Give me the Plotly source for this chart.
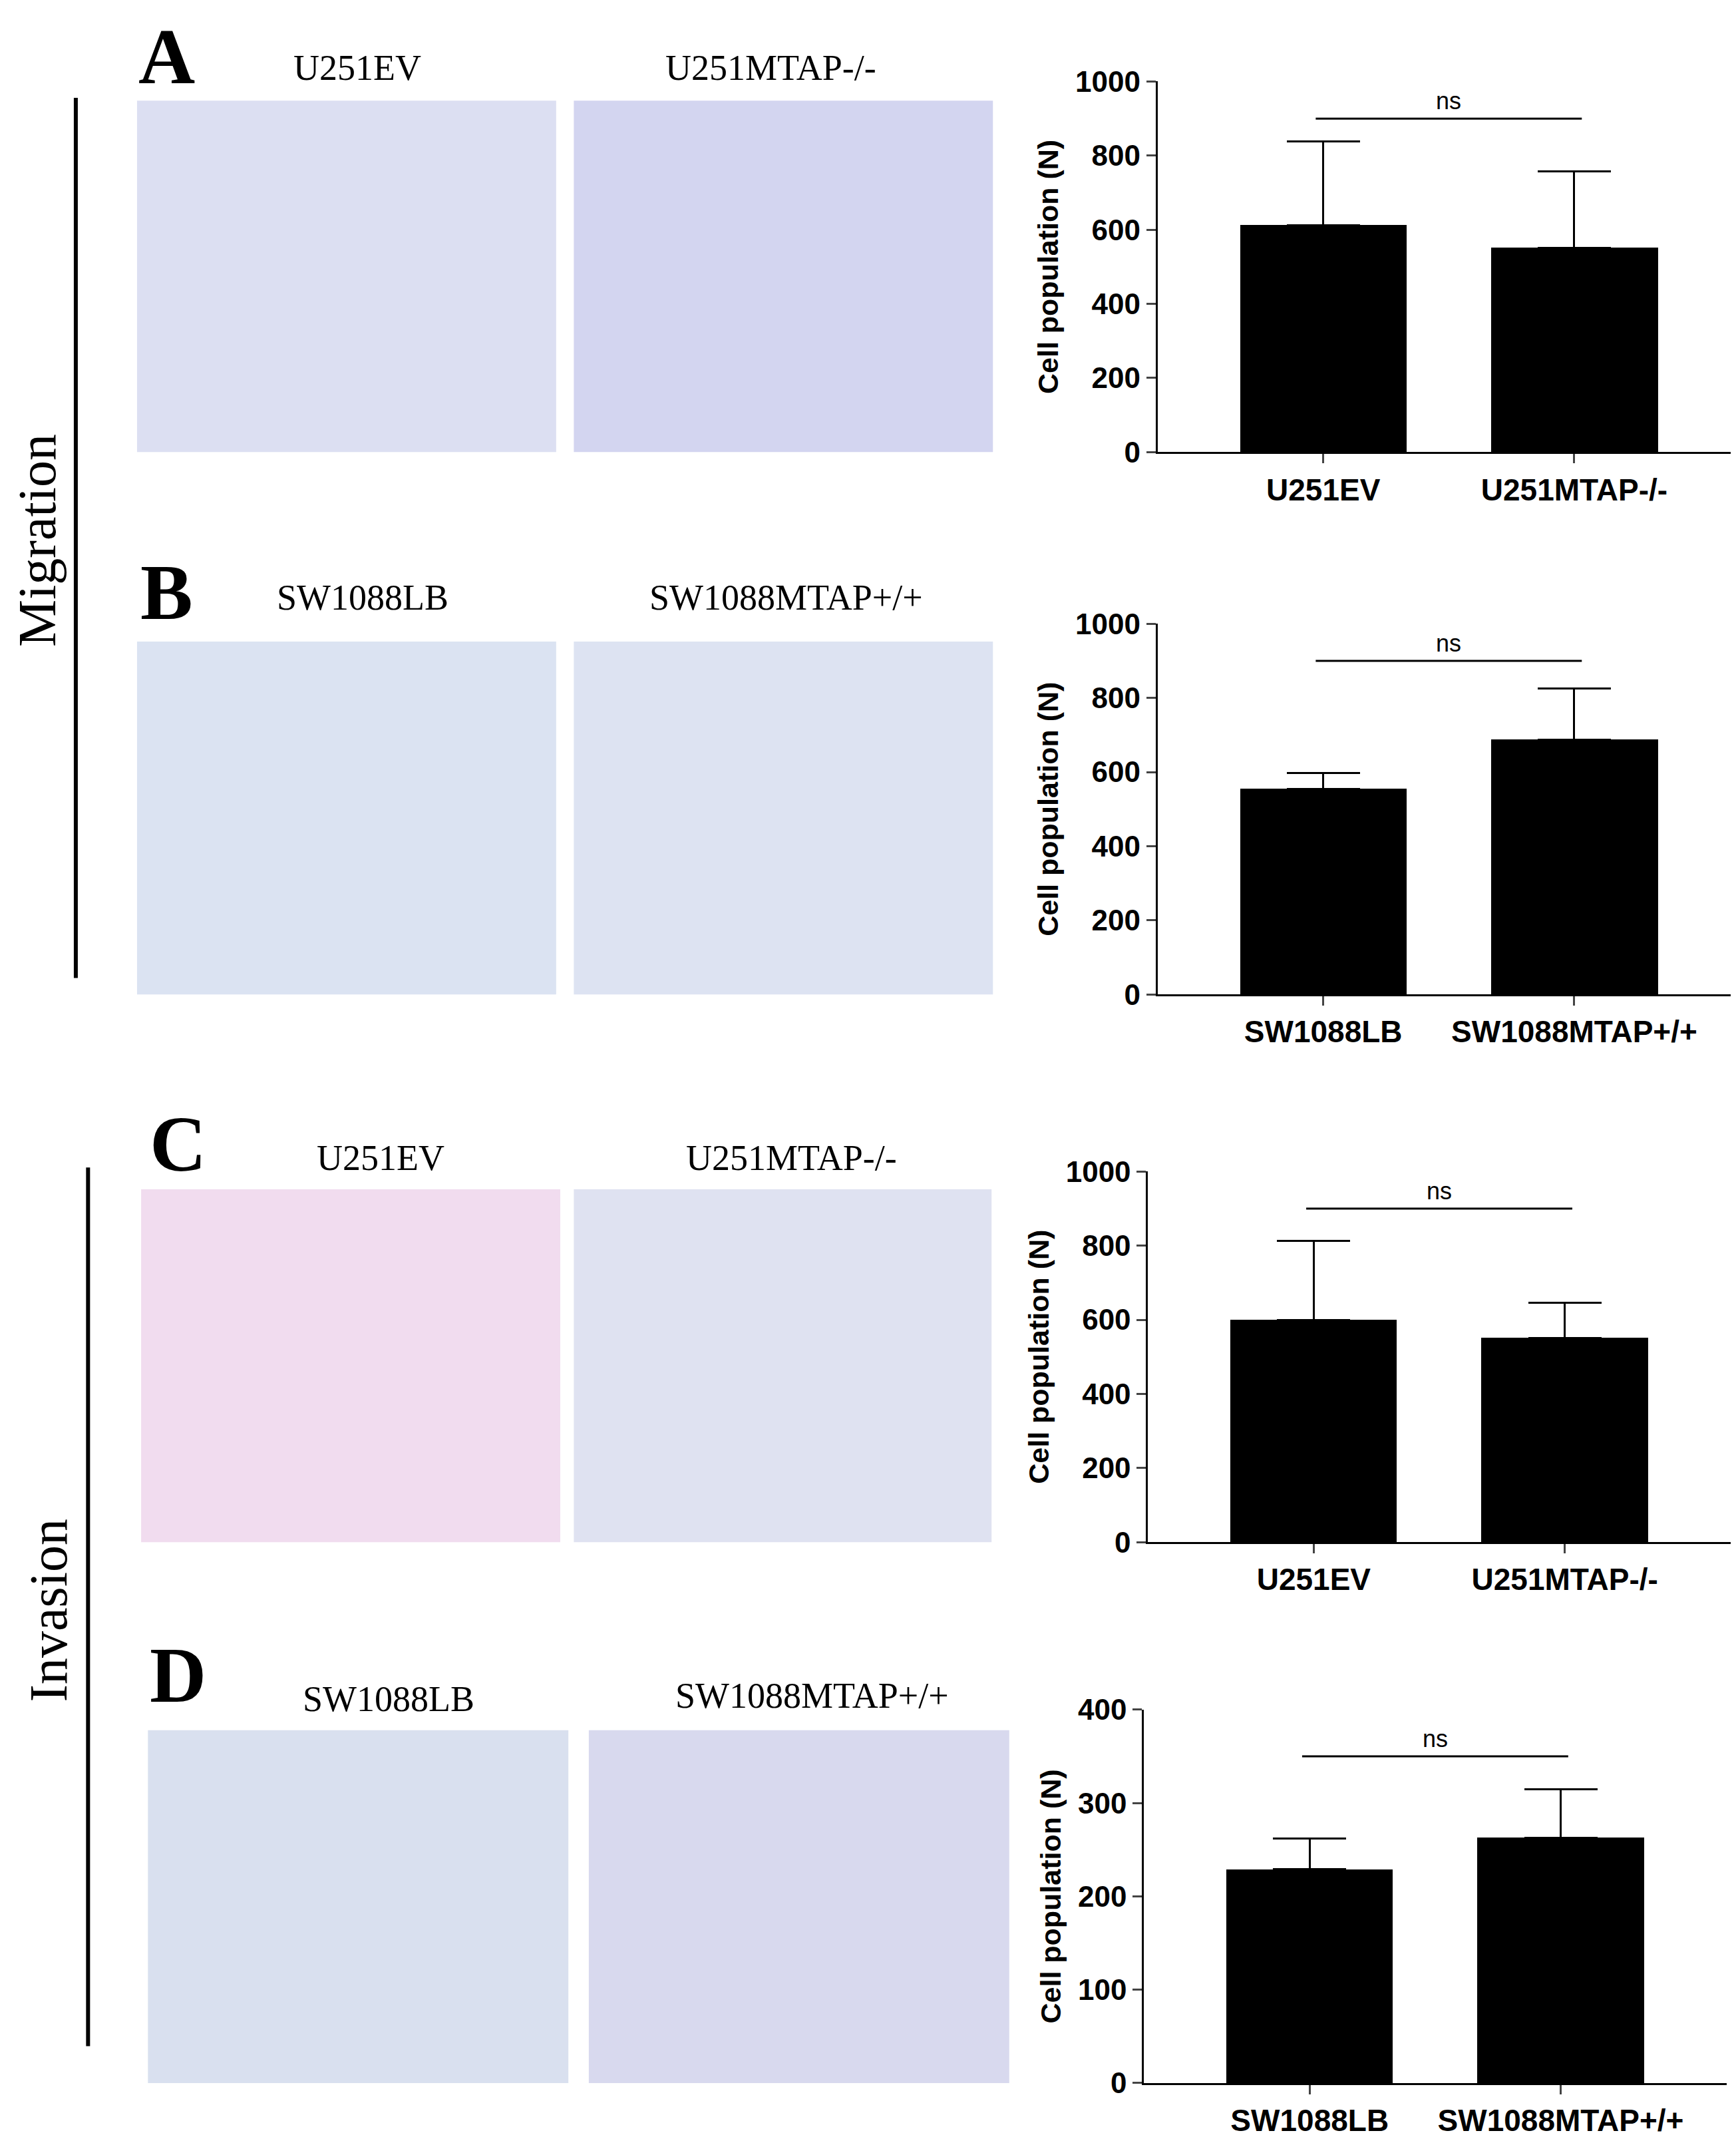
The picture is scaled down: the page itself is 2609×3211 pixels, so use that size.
import plotly.graph_objects as go

W, H = 2609, 3211

cats_A = ["U251EV", "U251MTAP-/-"]
mean_A = [612, 551]
err_A = [226, 207]
cats_B = ["SW1088LB", "SW1088MTAP+/+"]
mean_B = [555, 688]
err_B = [43, 137]
cats_C = ["U251EV", "U251MTAP-/-"]
mean_C = [600, 551]
err_C = [212, 95]
cats_D = ["SW1088LB", "SW1088MTAP+/+"]
mean_D = [229, 263]
err_D = [33, 52]
ymax = [1000, 1000, 1000, 400]
ydtick = [200, 200, 200, 100]
ns_y = [900, 900, 900, 350]

def fx(d): return (d - 3.2) / 1275.8
def fy(d): return 1 - (d - 14.3) / 1544.5

panels = [
    (cats_A, mean_A, err_A, 850, 1278, 58, 330),
    (cats_B, mean_B, err_B, 850, 1278, 456, 728),
    (cats_C, mean_C, err_C, 843, 1271, 858, 1130),
    (cats_D, mean_D, err_D, 840, 1268, 1253, 1527),
]

fig = go.Figure()
font_tick = "Liberation Sans Narrow, Arial Narrow, Liberation Sans, Arial"
for i, (cats, m, e, xl, xr, yt, yb) in enumerate(panels):
    n = i + 1
    xa = "x" if n == 1 else f"x{n}"
    ya = "y" if n == 1 else f"y{n}"
    fig.add_trace(go.Bar(
        x=[0, 1], y=m, width=0.665, marker=dict(color="black", line=dict(width=0)),
        error_y=dict(type="data", symmetric=False, array=e, arrayminus=[0, 0],
                     color="black", thickness=3, width=55),
        xaxis=xa, yaxis=ya, showlegend=False))
    lay_x = "xaxis" if n == 1 else f"xaxis{n}"
    lay_y = "yaxis" if n == 1 else f"yaxis{n}"
    fig.layout[lay_x] = dict(domain=[fx(xl), fx(xr)], range=[-0.66, 1.66], anchor=ya,
                             tickvals=[0, 1], ticktext=[f"<b>{c}</b>" for c in cats],
                             showline=True, linecolor="black",
                             linewidth=3, ticks="outside", ticklen=14, tickwidth=3,
                             tickfont=dict(family=font_tick, size=46, color="black"),
                             showgrid=False, zeroline=False)
    fig.layout[lay_y] = dict(domain=[fy(yb), fy(yt)], range=[0, ymax[i]], anchor=xa,
                             dtick=ydtick[i], showline=True, linecolor="black", linewidth=3,
                             ticks="outside", ticklen=14, tickwidth=3,
                             tickprefix="<b>", ticksuffix="</b>",
                             tickfont=dict(family=font_tick, size=44, color="black"),
                             title=dict(text="<b>Cell population (N)</b>", standoff=12,
                                        font=dict(family="Liberation Sans, Arial", size=43, color="black")),
                             showgrid=False, zeroline=False)
    fig.add_shape(type="line", xref=xa, yref=ya, x0=-0.03, x1=1.03, y0=ns_y[i], y1=ns_y[i],
                  line=dict(color="black", width=3))
    fig.add_annotation(xref=xa, yref=ya, x=0.5, y=ns_y[i], text="ns", showarrow=False,
                       yanchor="bottom", yshift=4,
                       font=dict(family="Liberation Sans Narrow, Liberation Sans", size=36, color="black"))

images = [
    (100, 408, 72, 330, "#dcdff2"), (421, 729, 72, 330, "#d3d5f0"),
    (100, 408, 469, 728, "#dbe3f2"), (421, 729, 469, 728, "#dde3f2"),
    (103, 411, 871, 1130, "#f1dcef"), (421, 728, 871, 1130, "#dfe2f1"),
    (108, 417, 1268, 1527, "#d9e0ef"), (432, 741, 1268, 1527, "#d8d9ee"),
]
for x0, x1, y0, y1, c in images:
    fig.add_shape(type="rect", xref="paper", yref="paper", x0=fx(x0), x1=fx(x1),
                  y0=fy(y1), y1=fy(y0), fillcolor=c, line=dict(width=0), layer="below")

serif = "Liberation Serif, Times New Roman, serif"
titles = [
    ("U251EV", 262, 48), ("U251MTAP-/-", 566, 48),
    ("SW1088LB", 266, 437), ("SW1088MTAP+/+", 577, 437),
    ("U251EV", 279, 848), ("U251MTAP-/-", 581, 848),
    ("SW1088LB", 285, 1245), ("SW1088MTAP+/+", 596, 1243),
]
for t, x, y in titles:
    fig.add_annotation(xref="paper", yref="paper", x=fx(x), y=fy(y), text=t, showarrow=False,
                       xanchor="center", yanchor="middle",
                       font=dict(family=serif, size=54, color="black"))
letters = [("A", 122, 40), ("B", 122, 433), ("C", 130, 838), ("D", 130, 1228)]
for t, x, y in letters:
    fig.add_annotation(xref="paper", yref="paper", x=fx(x), y=fy(y), text=f"<b>{t}</b>",
                       xanchor="center", yanchor="middle",
                       showarrow=False, font=dict(family=serif, size=118, color="black"))

fig.add_annotation(xref="paper", yref="paper", x=fx(27), y=fy(395), text="Migration",
                   xanchor="center", yanchor="middle",
                   textangle=-90, showarrow=False, font=dict(family=serif, size=80, color="black"))
fig.add_annotation(xref="paper", yref="paper", x=fx(35), y=fy(1180), text="Invasion",
                   xanchor="center", yanchor="middle",
                   textangle=-90, showarrow=False, font=dict(family=serif, size=80, color="black"))
fig.add_shape(type="line", xref="paper", yref="paper", x0=fx(55), x1=fx(55),
              y0=fy(70), y1=fy(716), line=dict(color="black", width=6))
fig.add_shape(type="line", xref="paper", yref="paper", x0=fx(64), x1=fx(64),
              y0=fy(855), y1=fy(1500), line=dict(color="black", width=6))

fig.update_layout(width=W, height=H, margin=dict(l=0, r=0, t=0, b=0),
                  plot_bgcolor="white", paper_bgcolor="white", bargap=0)
fig.write_html("out.html")
